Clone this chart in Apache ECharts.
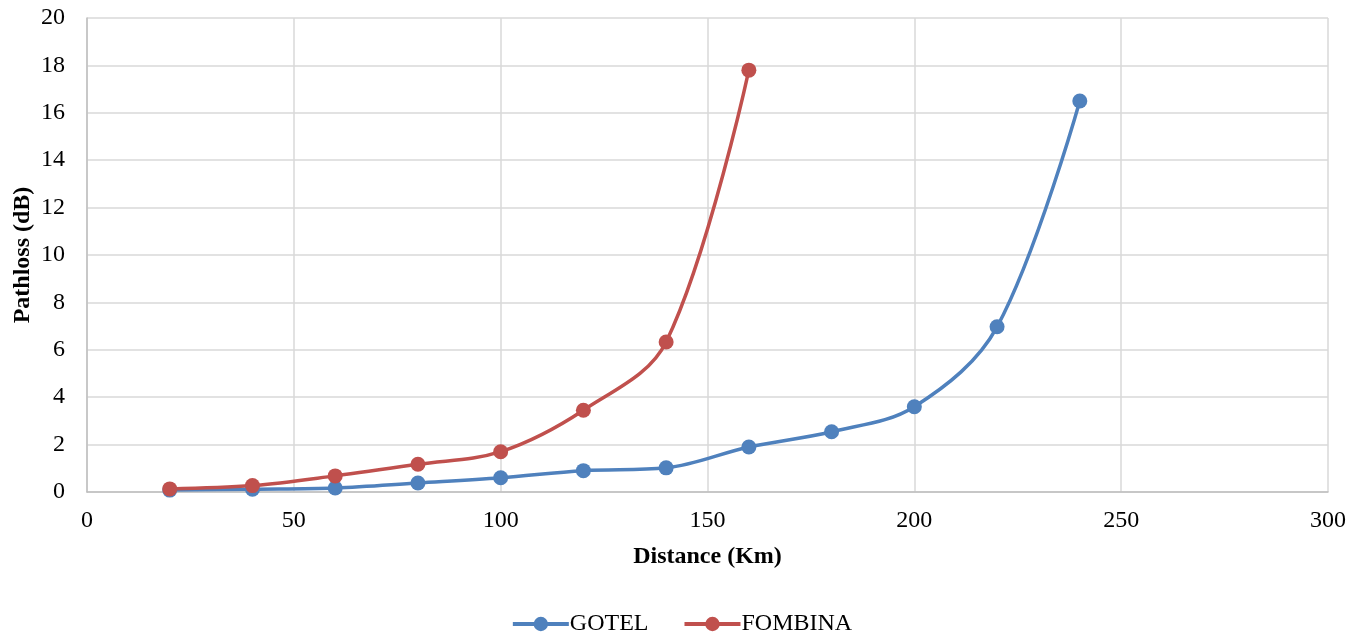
<!DOCTYPE html>
<html><head><meta charset="utf-8">
<script src="https://cdn.jsdelivr.net/npm/echarts@6/dist/echarts.min.js"></script>
<style>html,body{margin:0;padding:0;background:#fff}#c{width:1363px;height:633px}</style>
</head><body><div id="c"></div>
<script>
const distances = [20, 40, 60, 80, 100, 120, 140, 160, 180, 200, 220, 240];
const gotel = [0.08, 0.12, 0.17, 0.38, 0.6, 0.9, 1.02, 1.9, 2.54, 3.6, 6.97, 16.5];
const fombinaDistances = [20, 40, 60, 80, 100, 120, 140, 160];
const fombina = [0.13, 0.27, 0.68, 1.17, 1.7, 3.45, 6.33, 17.8];
const seriesNames = ['GOTEL', 'FOMBINA'];

const font = 'Liberation Serif';
const chart = echarts.init(document.getElementById('c'));
chart.setOption({
  animation: false,
  textStyle: {fontFamily: font},
  grid: {left: 87, right: 35, top: 18, bottom: 141, containLabel: false, outerBoundsMode: 'none'},
  legend: {
    top: 607, left: 'center', itemGap: 34, itemWidth: 56, itemHeight: 18,
    lineStyle: {width: 4},
    textStyle: {fontFamily: font, fontSize: 24, color: '#000', padding: [0, 0, 0, -4]},
    data: seriesNames
  },
  xAxis: {
    type: 'value', min: 0, max: 300, interval: 50,
    name: 'Distance (Km)', nameLocation: 'middle', nameGap: 53, nameMoveOverlap: false,
    nameTextStyle: {fontFamily: font, fontSize: 24, fontWeight: 'bold', color: '#000'},
    axisLine: {lineStyle: {color: '#bfbfbf', width: 1.5}},
    axisTick: {show: false},
    axisLabel: {fontFamily: font, fontSize: 24, color: '#000', margin: 17},
    splitLine: {show: true, lineStyle: {color: '#d9d9d9', width: 1.5}}
  },
  yAxis: {
    type: 'value', min: 0, max: 20, interval: 2,
    name: 'Pathloss (dB)', nameLocation: 'middle', nameGap: 52, nameMoveOverlap: false,
    nameTextStyle: {fontFamily: font, fontSize: 24, fontWeight: 'bold', color: '#000'},
    axisLine: {show: true, lineStyle: {color: '#bfbfbf', width: 1.5}},
    axisTick: {show: false},
    axisLabel: {fontFamily: font, fontSize: 24, color: '#000', margin: 22},
    splitLine: {show: true, lineStyle: {color: '#d9d9d9', width: 1.5}}
  },
  series: [
    {
      name: seriesNames[0], type: 'line', smooth: 0.35,
      data: distances.map((d, i) => [d, gotel[i]]),
      symbol: 'circle', symbolSize: 15,
      itemStyle: {color: '#4F81BD'},
      lineStyle: {width: 3.5, color: '#4F81BD'}
    },
    {
      name: seriesNames[1], type: 'line', smooth: 0.35,
      data: fombinaDistances.map((d, i) => [d, fombina[i]]),
      symbol: 'circle', symbolSize: 15,
      itemStyle: {color: '#C0504D'},
      lineStyle: {width: 3.5, color: '#C0504D'}
    }
  ]
});
</script></body></html>
